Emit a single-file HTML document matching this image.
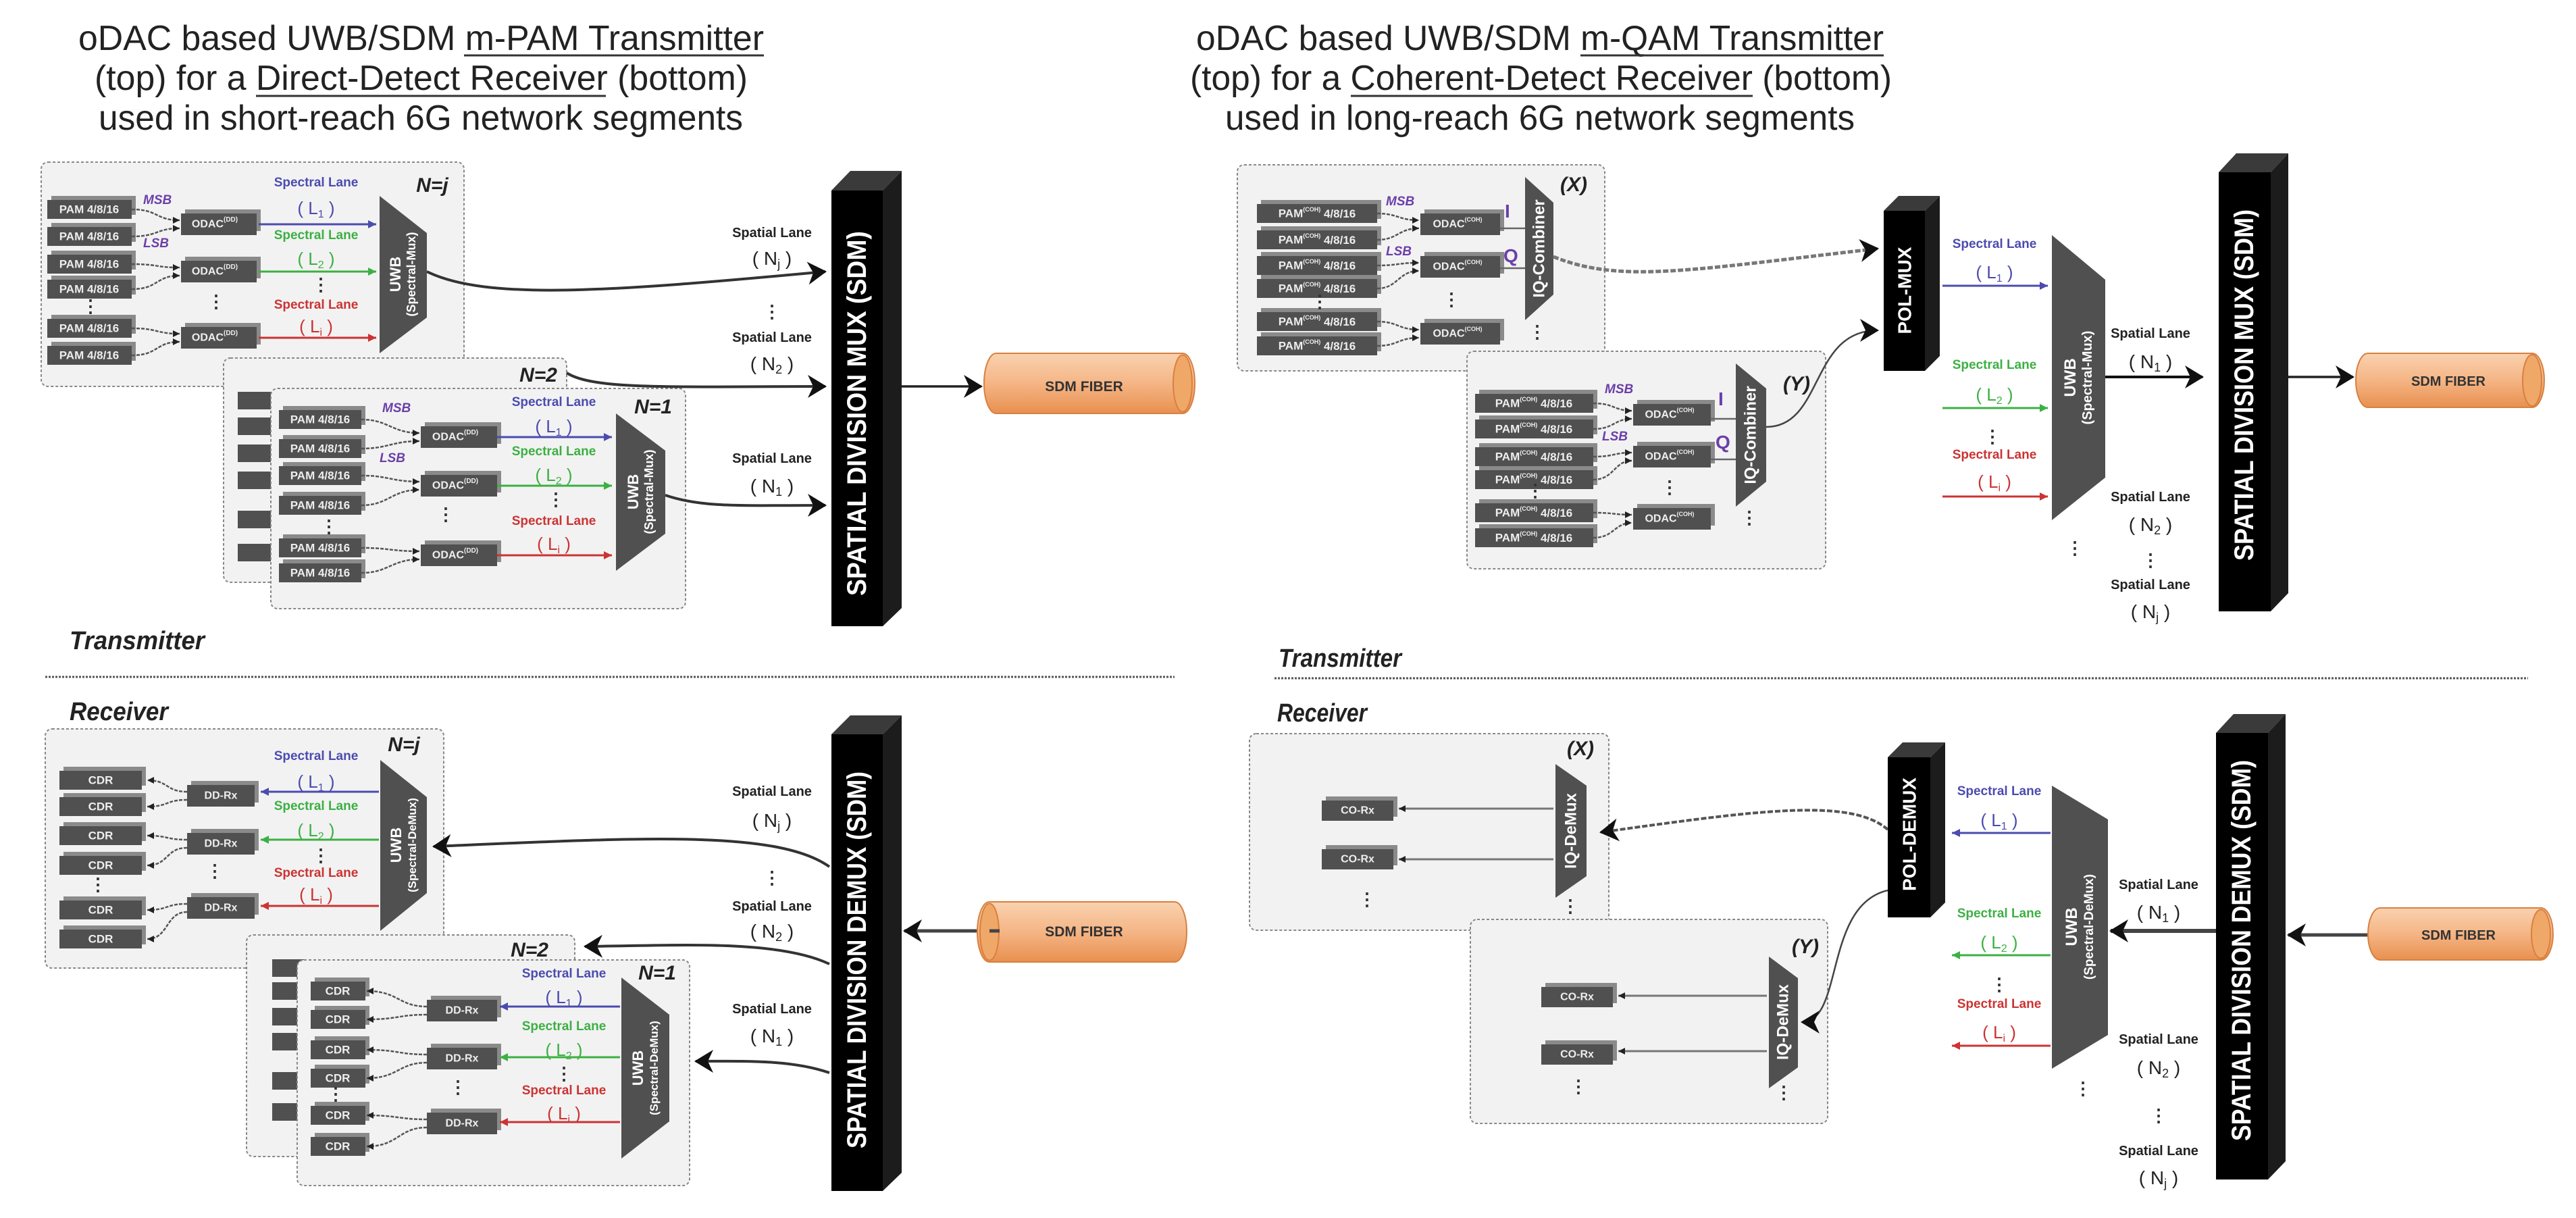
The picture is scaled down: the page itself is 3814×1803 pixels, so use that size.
<!DOCTYPE html>
<html><head><meta charset="utf-8">
<style>
html,body{margin:0;padding:0;background:#fff;}
svg{display:block;}
text{font-family:"Liberation Sans",sans-serif;}
.ti{font-size:52px;fill:#222;}
.pt{font-size:17px;font-weight:bold;fill:#eee;text-anchor:middle;dominant-baseline:central;}
.bt{font-size:16px;font-weight:bold;fill:#eee;text-anchor:middle;dominant-baseline:central;}
.sl{font-size:19px;font-weight:bold;text-anchor:middle;}
.ln{font-size:26px;text-anchor:middle;}
.sp{font-size:20px;font-weight:bold;fill:#222;text-anchor:middle;}
.spn{font-size:28px;fill:#222;text-anchor:middle;}
.nl{font-size:30px;font-weight:bold;font-style:italic;fill:#222;text-anchor:middle;}
.ms{font-size:19px;font-weight:bold;font-style:italic;fill:#6b3fa8;}
.iq{font-size:28px;font-weight:bold;fill:#6b3fa8;}
.dt{font-size:26px;font-weight:bold;fill:#333;text-anchor:middle;}
.wt{fill:#fff;font-weight:bold;text-anchor:middle;dominant-baseline:central;}
.sec{font-size:38px;font-weight:bold;font-style:italic;fill:#222;}
.pn{fill:#f2f2f2;stroke:#888;stroke-width:2;stroke-dasharray:4,3;}
.cn{fill:none;stroke:#555;stroke-width:2.5;stroke-dasharray:5,2;}
.bl{stroke:#4b4bb0;stroke-width:3;fill:none;}
.gr{stroke:#3cb043;stroke-width:3;fill:none;}
.rd{stroke:#cc3333;stroke-width:3;fill:none;}
.sc{fill:none;stroke:#333;stroke-width:4;}
</style></head><body>
<svg width="3814" height="1803" viewBox="0 0 3814 1803" xmlns="http://www.w3.org/2000/svg">
<defs>
<marker id="ab" markerUnits="userSpaceOnUse" markerWidth="30" markerHeight="34" refX="26" refY="17" orient="auto"><path d="M0,0 L28,17 L0,34 L8,17 Z" fill="#111"/></marker>
<marker id="as" markerUnits="userSpaceOnUse" markerWidth="12" markerHeight="12" refX="10" refY="6" orient="auto"><path d="M0,1 L10,6 L0,11 Z" fill="#222"/></marker>
<marker id="abl" markerUnits="userSpaceOnUse" markerWidth="14" markerHeight="14" refX="12" refY="7" orient="auto"><path d="M0,1 L12,7 L0,13 Z" fill="#4b4bb0"/></marker>
<marker id="agr" markerUnits="userSpaceOnUse" markerWidth="14" markerHeight="14" refX="12" refY="7" orient="auto"><path d="M0,1 L12,7 L0,13 Z" fill="#3cb043"/></marker>
<marker id="ard" markerUnits="userSpaceOnUse" markerWidth="14" markerHeight="14" refX="12" refY="7" orient="auto"><path d="M0,1 L12,7 L0,13 Z" fill="#cc3333"/></marker>
<linearGradient id="fg" x1="0" y1="0" x2="0" y2="1"><stop offset="0" stop-color="#f9d2b0"/><stop offset="0.5" stop-color="#f5b585"/><stop offset="1" stop-color="#e89050"/></linearGradient>
</defs>

<!-- TITLES -->
<text class="ti" x="116" y="74" textLength="1015" lengthAdjust="spacingAndGlyphs">oDAC based UWB/SDM m-PAM Transmitter</text>
<text class="ti" x="140" y="133" textLength="967" lengthAdjust="spacingAndGlyphs">(top) for a Direct-Detect Receiver (bottom)</text>
<text class="ti" x="146" y="192" textLength="954" lengthAdjust="spacingAndGlyphs">used in short-reach 6G network segments</text>
<line x1="687" y1="82" x2="1131" y2="82" stroke="#333" stroke-width="3"/>
<line x1="379" y1="142" x2="897" y2="142" stroke="#333" stroke-width="3"/>
<text class="ti" x="1771" y="74" textLength="1018" lengthAdjust="spacingAndGlyphs">oDAC based UWB/SDM m-QAM Transmitter</text>
<text class="ti" x="1762" y="133" textLength="1039" lengthAdjust="spacingAndGlyphs">(top) for a Coherent-Detect Receiver (bottom)</text>
<text class="ti" x="1814" y="192" textLength="932" lengthAdjust="spacingAndGlyphs">used in long-reach 6G network segments</text>
<line x1="2340" y1="82" x2="2789" y2="82" stroke="#333" stroke-width="3"/>
<line x1="2000" y1="142" x2="2595" y2="142" stroke="#333" stroke-width="3"/>

<!-- ============ LEFT TX N=j ============ -->
<rect class="pn" x="61" y="240" width="626" height="332" rx="10"/>
<g>
<rect x="76" y="290" width="125" height="28" fill="#8a8a8a"/><rect x="70" y="296" width="125" height="28" fill="#505050"/><text class="pt" x="132" y="310">PAM 4/8/16</text>
<rect x="76" y="330" width="125" height="28" fill="#8a8a8a"/><rect x="70" y="336" width="125" height="28" fill="#505050"/><text class="pt" x="132" y="350">PAM 4/8/16</text>
<rect x="76" y="371" width="125" height="28" fill="#8a8a8a"/><rect x="70" y="377" width="125" height="28" fill="#505050"/><text class="pt" x="132" y="391">PAM 4/8/16</text>
<rect x="76" y="408" width="125" height="28" fill="#8a8a8a"/><rect x="70" y="414" width="125" height="28" fill="#505050"/><text class="pt" x="132" y="428">PAM 4/8/16</text>
<rect x="76" y="466" width="125" height="28" fill="#8a8a8a"/><rect x="70" y="472" width="125" height="28" fill="#505050"/><text class="pt" x="132" y="486">PAM 4/8/16</text>
<rect x="76" y="506" width="125" height="28" fill="#8a8a8a"/><rect x="70" y="512" width="125" height="28" fill="#505050"/><text class="pt" x="132" y="526">PAM 4/8/16</text>
<rect x="274" y="310" width="112" height="32" fill="#8a8a8a"/><rect x="268" y="316" width="112" height="32" fill="#505050"/><text class="bt" x="318" y="332">ODAC<tspan font-size="10" dy="-7">(DD)</tspan></text>
<rect x="274" y="380" width="112" height="32" fill="#8a8a8a"/><rect x="268" y="386" width="112" height="32" fill="#505050"/><text class="bt" x="318" y="402">ODAC<tspan font-size="10" dy="-7">(DD)</tspan></text>
<rect x="274" y="478" width="112" height="32" fill="#8a8a8a"/><rect x="268" y="484" width="112" height="32" fill="#505050"/><text class="bt" x="318" y="500">ODAC<tspan font-size="10" dy="-7">(DD)</tspan></text>
<path class="cn" marker-end="url(#as)" d="M195,310 C235,310 230,326 266,326"/>
<path class="cn" marker-end="url(#as)" d="M195,350 C235,350 230,338 266,338"/>
<path class="cn" marker-end="url(#as)" d="M195,391 C235,391 230,396 266,396"/>
<path class="cn" marker-end="url(#as)" d="M195,428 C235,428 230,408 266,408"/>
<path class="cn" marker-end="url(#as)" d="M195,486 C235,486 230,494 266,494"/>
<path class="cn" marker-end="url(#as)" d="M195,526 C235,526 230,506 266,506"/>
<text class="ms" x="212" y="302">MSB</text><text class="ms" x="212" y="366">LSB</text>
<line class="bl" x1="383" y1="332" x2="557" y2="332" marker-end="url(#abl)"/>
<line class="gr" x1="383" y1="402" x2="557" y2="402" marker-end="url(#agr)"/>
<line class="rd" x1="383" y1="500" x2="557" y2="500" marker-end="url(#ard)"/>
<text class="sl" x="468" y="276" fill="#4b4bb0">Spectral Lane</text><text class="ln" x="468" y="317" fill="#4b4bb0">( L<tspan font-size="16" dy="5">1</tspan><tspan dy="-5"> )</tspan></text>
<text class="sl" x="468" y="354" fill="#3cb043">Spectral Lane</text><text class="ln" x="468" y="392" fill="#3cb043">( L<tspan font-size="16" dy="5">2</tspan><tspan dy="-5"> )</tspan></text>
<text class="sl" x="468" y="457" fill="#cc3333">Spectral Lane</text><text class="ln" x="468" y="492" fill="#cc3333">( L<tspan font-size="16" dy="5">i</tspan><tspan dy="-5"> )</tspan></text>
<text class="dt" x="475" y="430">⋮</text><text class="dt" x="320" y="455">⋮</text><text class="dt" x="134" y="462">⋮</text>
<polygon points="562,290 632,345 632,470 562,523" fill="#505050"/>
<text class="wt" transform="translate(597,406) rotate(-90)"><tspan x="0" dy="-12" font-size="22">UWB</tspan><tspan x="0" dy="24" font-size="18">(Spectral-Mux)</tspan></text>
<text class="nl" x="640" y="284">N=j</text>
</g>

<!-- N=2 panel -->
<rect class="pn" x="331" y="530" width="508" height="332" rx="10"/>
<text class="nl" x="797" y="565">N=2</text>
<g fill="#505050">
<rect x="352" y="580" width="60" height="26"/><rect x="352" y="618" width="60" height="26"/><rect x="352" y="658" width="60" height="26"/><rect x="352" y="698" width="60" height="26"/><rect x="352" y="756" width="60" height="26"/><rect x="352" y="805" width="60" height="26"/>
</g>
<!-- N=1 panel -->
<rect class="pn" x="401" y="575" width="614" height="326" rx="10"/>
<g>
<rect x="419" y="601" width="122" height="28" fill="#8a8a8a"/><rect x="413" y="607" width="122" height="28" fill="#505050"/><text class="pt" x="474" y="621">PAM 4/8/16</text>
<rect x="419" y="644" width="122" height="28" fill="#8a8a8a"/><rect x="413" y="650" width="122" height="28" fill="#505050"/><text class="pt" x="474" y="664">PAM 4/8/16</text>
<rect x="419" y="684" width="122" height="28" fill="#8a8a8a"/><rect x="413" y="690" width="122" height="28" fill="#505050"/><text class="pt" x="474" y="704">PAM 4/8/16</text>
<rect x="419" y="728" width="122" height="28" fill="#8a8a8a"/><rect x="413" y="734" width="122" height="28" fill="#505050"/><text class="pt" x="474" y="748">PAM 4/8/16</text>
<rect x="419" y="791" width="122" height="28" fill="#8a8a8a"/><rect x="413" y="797" width="122" height="28" fill="#505050"/><text class="pt" x="474" y="811">PAM 4/8/16</text>
<rect x="419" y="828" width="122" height="28" fill="#8a8a8a"/><rect x="413" y="834" width="122" height="28" fill="#505050"/><text class="pt" x="474" y="848">PAM 4/8/16</text>
<rect x="629" y="625" width="113" height="32" fill="#8a8a8a"/><rect x="623" y="631" width="113" height="32" fill="#505050"/><text class="bt" x="674" y="647">ODAC<tspan font-size="10" dy="-7">(DD)</tspan></text>
<rect x="629" y="697" width="113" height="32" fill="#8a8a8a"/><rect x="623" y="703" width="113" height="32" fill="#505050"/><text class="bt" x="674" y="719">ODAC<tspan font-size="10" dy="-7">(DD)</tspan></text>
<rect x="629" y="800" width="113" height="32" fill="#8a8a8a"/><rect x="623" y="806" width="113" height="32" fill="#505050"/><text class="bt" x="674" y="822">ODAC<tspan font-size="10" dy="-7">(DD)</tspan></text>
<path class="cn" marker-end="url(#as)" d="M535,621 C575,621 580,641 621,641"/>
<path class="cn" marker-end="url(#as)" d="M535,664 C575,664 580,653 621,653"/>
<path class="cn" marker-end="url(#as)" d="M535,704 C575,704 580,713 621,713"/>
<path class="cn" marker-end="url(#as)" d="M535,748 C575,748 580,725 621,725"/>
<path class="cn" marker-end="url(#as)" d="M535,811 C575,811 580,816 621,816"/>
<path class="cn" marker-end="url(#as)" d="M535,848 C575,848 580,828 621,828"/>
<text class="ms" x="566" y="610">MSB</text><text class="ms" x="562" y="684">LSB</text>
<line class="bl" x1="736" y1="647" x2="906" y2="647" marker-end="url(#abl)"/>
<line class="gr" x1="736" y1="719" x2="906" y2="719" marker-end="url(#agr)"/>
<line class="rd" x1="736" y1="822" x2="906" y2="822" marker-end="url(#ard)"/>
<text class="sl" x="820" y="601" fill="#4b4bb0">Spectral Lane</text><text class="ln" x="820" y="640" fill="#4b4bb0">( L<tspan font-size="16" dy="5">1</tspan><tspan dy="-5"> )</tspan></text>
<text class="sl" x="820" y="674" fill="#3cb043">Spectral Lane</text><text class="ln" x="820" y="712" fill="#3cb043">( L<tspan font-size="16" dy="5">2</tspan><tspan dy="-5"> )</tspan></text>
<text class="sl" x="820" y="777" fill="#cc3333">Spectral Lane</text><text class="ln" x="820" y="814" fill="#cc3333">( L<tspan font-size="16" dy="5">i</tspan><tspan dy="-5"> )</tspan></text>
<text class="dt" x="823" y="748">⋮</text><text class="dt" x="660" y="770">⋮</text><text class="dt" x="487" y="788">⋮</text>
<polygon points="912,612 985,667 985,790 912,845" fill="#505050"/>
<text class="wt" transform="translate(949,728) rotate(-90)"><tspan x="0" dy="-12" font-size="22">UWB</tspan><tspan x="0" dy="24" font-size="18">(Spectral-Mux)</tspan></text>
<text class="nl" x="967" y="612">N=1</text>
</g>

<!-- left TX spatial lanes -->
<path class="sc" d="M632,402 C720,445 900,432 1222,402" marker-end="url(#ab)"/>
<path class="sc" d="M839,552 C880,578 1000,572 1222,572" marker-end="url(#ab)"/>
<path class="sc" d="M985,733 C1040,752 1100,748 1222,748" marker-end="url(#ab)"/>
<text class="sp" x="1143" y="351">Spatial Lane</text><text class="spn" x="1143" y="392">( N<tspan font-size="18" dy="5">j</tspan><tspan dy="-5"> )</tspan></text>
<text class="dt" x="1143" y="470">⋮</text>
<text class="sp" x="1143" y="506">Spatial Lane</text><text class="spn" x="1143" y="548">( N<tspan font-size="18" dy="5">2</tspan><tspan dy="-5"> )</tspan></text>
<text class="sp" x="1143" y="685">Spatial Lane</text><text class="spn" x="1143" y="729">( N<tspan font-size="18" dy="5">1</tspan><tspan dy="-5"> )</tspan></text>
<!-- TX SDM bar left -->
<polygon points="1231,282 1259,253 1335,253 1307,282" fill="#3a3a3a"/>
<polygon points="1307,282 1335,253 1335,900 1307,927" fill="#1c1c1c"/>
<rect x="1231" y="282" width="76" height="645" fill="#000"/>
<text class="wt" font-size="40" font-weight="normal" transform="translate(1269,612) rotate(-90)" textLength="540" lengthAdjust="spacingAndGlyphs">SPATIAL DIVISION  MUX (SDM)</text>
<line x1="1335" y1="572" x2="1453" y2="572" stroke="#222" stroke-width="3.5" marker-end="url(#ab)"/>
<!-- fiber left TX -->
<path d="M1475,523 L1751,523 A18,44.5 0 0 1 1751,612 L1475,612 A18,44.5 0 0 1 1475,523 Z" fill="url(#fg)" stroke="#d88040" stroke-width="2"/>
<ellipse cx="1751" cy="567.5" rx="14" ry="42" fill="#f0a868" stroke="#d88040" stroke-width="2"/>
<text x="1605" y="579" font-size="21" font-weight="bold" fill="#333" text-anchor="middle">SDM FIBER</text>

<!-- section labels -->
<text class="sec" x="103" y="961" textLength="200" lengthAdjust="spacingAndGlyphs">Transmitter</text>
<line x1="67" y1="1002" x2="1739" y2="1002" stroke="#555" stroke-width="3" stroke-dasharray="3,2"/>
<text class="sec" x="103" y="1066" textLength="146" lengthAdjust="spacingAndGlyphs">Receiver</text>
<text class="sec" x="1893" y="987" textLength="182" lengthAdjust="spacingAndGlyphs">Transmitter</text>
<line x1="1887" y1="1004" x2="3743" y2="1004" stroke="#555" stroke-width="3" stroke-dasharray="3,2"/>
<text class="sec" x="1891" y="1068" textLength="133" lengthAdjust="spacingAndGlyphs">Receiver</text>

<!-- ============ LEFT RX N=j ============ -->
<rect class="pn" x="67" y="1079" width="590" height="354" rx="10"/>
<g>
<rect x="94" y="1135" width="122" height="28" fill="#8a8a8a"/><rect x="88" y="1141" width="122" height="28" fill="#505050"/><text class="pt" x="149" y="1155">CDR</text>
<rect x="94" y="1174" width="122" height="28" fill="#8a8a8a"/><rect x="88" y="1180" width="122" height="28" fill="#505050"/><text class="pt" x="149" y="1194">CDR</text>
<rect x="94" y="1217" width="122" height="28" fill="#8a8a8a"/><rect x="88" y="1223" width="122" height="28" fill="#505050"/><text class="pt" x="149" y="1237">CDR</text>
<rect x="94" y="1261" width="122" height="28" fill="#8a8a8a"/><rect x="88" y="1267" width="122" height="28" fill="#505050"/><text class="pt" x="149" y="1281">CDR</text>
<rect x="94" y="1327" width="122" height="28" fill="#8a8a8a"/><rect x="88" y="1333" width="122" height="28" fill="#505050"/><text class="pt" x="149" y="1347">CDR</text>
<rect x="94" y="1370" width="122" height="28" fill="#8a8a8a"/><rect x="88" y="1376" width="122" height="28" fill="#505050"/><text class="pt" x="149" y="1390">CDR</text>
<rect x="283" y="1156" width="100" height="32" fill="#8a8a8a"/><rect x="277" y="1162" width="100" height="32" fill="#505050"/><text class="bt" x="327" y="1178">DD-Rx</text>
<rect x="283" y="1227" width="100" height="32" fill="#8a8a8a"/><rect x="277" y="1233" width="100" height="32" fill="#505050"/><text class="bt" x="327" y="1249">DD-Rx</text>
<rect x="283" y="1322" width="100" height="32" fill="#8a8a8a"/><rect x="277" y="1328" width="100" height="32" fill="#505050"/><text class="bt" x="327" y="1344">DD-Rx</text>
<path class="cn" marker-end="url(#as)" d="M277,1172 C245,1172 250,1155 218,1155"/>
<path class="cn" marker-end="url(#as)" d="M277,1184 C245,1184 250,1194 218,1194"/>
<path class="cn" marker-end="url(#as)" d="M277,1243 C245,1243 250,1237 218,1237"/>
<path class="cn" marker-end="url(#as)" d="M277,1255 C245,1255 250,1281 218,1281"/>
<path class="cn" marker-end="url(#as)" d="M277,1338 C245,1338 250,1347 218,1347"/>
<path class="cn" marker-end="url(#as)" d="M277,1350 C245,1350 250,1390 218,1390"/>
<line class="bl" x1="561" y1="1172" x2="386" y2="1172" marker-end="url(#abl)"/>
<line class="gr" x1="561" y1="1243" x2="386" y2="1243" marker-end="url(#agr)"/>
<line class="rd" x1="561" y1="1341" x2="386" y2="1341" marker-end="url(#ard)"/>
<text class="sl" x="468" y="1125" fill="#4b4bb0">Spectral Lane</text><text class="ln" x="468" y="1166" fill="#4b4bb0">( L<tspan font-size="16" dy="5">1</tspan><tspan dy="-5"> )</tspan></text>
<text class="sl" x="468" y="1199" fill="#3cb043">Spectral Lane</text><text class="ln" x="468" y="1238" fill="#3cb043">( L<tspan font-size="16" dy="5">2</tspan><tspan dy="-5"> )</tspan></text>
<text class="sl" x="468" y="1298" fill="#cc3333">Spectral Lane</text><text class="ln" x="468" y="1333" fill="#cc3333">( L<tspan font-size="16" dy="5">i</tspan><tspan dy="-5"> )</tspan></text>
<text class="dt" x="475" y="1275">⋮</text><text class="dt" x="318" y="1298">⋮</text><text class="dt" x="145" y="1318">⋮</text>
<polygon points="563,1125 632,1180 632,1322 563,1378" fill="#505050"/>
<text class="wt" transform="translate(598,1251) rotate(-90)"><tspan x="0" dy="-12" font-size="22">UWB</tspan><tspan x="0" dy="24" font-size="17">(Spectral-DeMux)</tspan></text>
<text class="nl" x="598" y="1112">N=j</text>
</g>
<!-- N=2 RX -->
<rect class="pn" x="365" y="1384" width="486" height="328" rx="10"/>
<text class="nl" x="784" y="1416">N=2</text>
<g fill="#505050">
<rect x="403" y="1420" width="50" height="26"/><rect x="403" y="1454" width="50" height="26"/><rect x="403" y="1492" width="50" height="26"/><rect x="403" y="1529" width="50" height="26"/><rect x="403" y="1587" width="50" height="26"/><rect x="403" y="1633" width="50" height="26"/>
</g>
<rect class="pn" x="440" y="1421" width="581" height="334" rx="10"/>
<g>
<rect x="466" y="1447" width="81" height="28" fill="#8a8a8a"/><rect x="460" y="1453" width="81" height="28" fill="#505050"/><text class="pt" x="500" y="1467">CDR</text>
<rect x="466" y="1489" width="81" height="28" fill="#8a8a8a"/><rect x="460" y="1495" width="81" height="28" fill="#505050"/><text class="pt" x="500" y="1509">CDR</text>
<rect x="466" y="1534" width="81" height="28" fill="#8a8a8a"/><rect x="460" y="1540" width="81" height="28" fill="#505050"/><text class="pt" x="500" y="1554">CDR</text>
<rect x="466" y="1576" width="81" height="28" fill="#8a8a8a"/><rect x="460" y="1582" width="81" height="28" fill="#505050"/><text class="pt" x="500" y="1596">CDR</text>
<rect x="466" y="1631" width="81" height="28" fill="#8a8a8a"/><rect x="460" y="1637" width="81" height="28" fill="#505050"/><text class="pt" x="500" y="1651">CDR</text>
<rect x="466" y="1677" width="81" height="28" fill="#8a8a8a"/><rect x="460" y="1683" width="81" height="28" fill="#505050"/><text class="pt" x="500" y="1697">CDR</text>
<rect x="638" y="1474" width="104" height="32" fill="#8a8a8a"/><rect x="632" y="1480" width="104" height="32" fill="#505050"/><text class="bt" x="684" y="1496">DD-Rx</text>
<rect x="638" y="1545" width="104" height="32" fill="#8a8a8a"/><rect x="632" y="1551" width="104" height="32" fill="#505050"/><text class="bt" x="684" y="1567">DD-Rx</text>
<rect x="638" y="1641" width="104" height="32" fill="#8a8a8a"/><rect x="632" y="1647" width="104" height="32" fill="#505050"/><text class="bt" x="684" y="1663">DD-Rx</text>
<path class="cn" marker-end="url(#as)" d="M632,1490 C590,1490 590,1467 543,1467"/>
<path class="cn" marker-end="url(#as)" d="M632,1502 C590,1502 590,1509 543,1509"/>
<path class="cn" marker-end="url(#as)" d="M632,1561 C590,1561 590,1554 543,1554"/>
<path class="cn" marker-end="url(#as)" d="M632,1573 C590,1573 590,1596 543,1596"/>
<path class="cn" marker-end="url(#as)" d="M632,1657 C590,1657 590,1651 543,1651"/>
<path class="cn" marker-end="url(#as)" d="M632,1669 C590,1669 590,1697 543,1697"/>
<line class="bl" x1="918" y1="1490" x2="740" y2="1490" marker-end="url(#abl)"/>
<line class="gr" x1="918" y1="1565" x2="740" y2="1565" marker-end="url(#agr)"/>
<line class="rd" x1="918" y1="1661" x2="740" y2="1661" marker-end="url(#ard)"/>
<text class="sl" x="835" y="1447" fill="#4b4bb0">Spectral Lane</text><text class="ln" x="835" y="1485" fill="#4b4bb0">( L<tspan font-size="16" dy="5">1</tspan><tspan dy="-5"> )</tspan></text>
<text class="sl" x="835" y="1525" fill="#3cb043">Spectral Lane</text><text class="ln" x="835" y="1563" fill="#3cb043">( L<tspan font-size="16" dy="5">2</tspan><tspan dy="-5"> )</tspan></text>
<text class="sl" x="835" y="1620" fill="#cc3333">Spectral Lane</text><text class="ln" x="835" y="1657" fill="#cc3333">( L<tspan font-size="16" dy="5">i</tspan><tspan dy="-5"> )</tspan></text>
<text class="dt" x="835" y="1598">⋮</text><text class="dt" x="678" y="1618">⋮</text><text class="dt" x="497" y="1628">⋮</text>
<polygon points="920,1447 991,1502 991,1660 920,1715" fill="#505050"/>
<text class="wt" transform="translate(956,1581) rotate(-90)"><tspan x="0" dy="-12" font-size="22">UWB</tspan><tspan x="0" dy="24" font-size="17">(Spectral-DeMux)</tspan></text>
<text class="nl" x="973" y="1450">N=1</text>
</g>
<!-- left RX spatial lanes -->
<path class="sc" d="M1228,1283 C1150,1228 950,1240 642,1253" marker-end="url(#ab)"/>
<path class="sc" d="M1228,1427 C1150,1390 1000,1400 866,1401" marker-end="url(#ab)"/>
<path class="sc" d="M1228,1588 C1170,1568 1100,1571 1030,1571" marker-end="url(#ab)"/>
<text class="sp" x="1143" y="1178">Spatial Lane</text><text class="spn" x="1143" y="1224">( N<tspan font-size="18" dy="5">j</tspan><tspan dy="-5"> )</tspan></text>
<text class="dt" x="1143" y="1308">⋮</text>
<text class="sp" x="1143" y="1348">Spatial Lane</text><text class="spn" x="1143" y="1388">( N<tspan font-size="18" dy="5">2</tspan><tspan dy="-5"> )</tspan></text>
<text class="sp" x="1143" y="1500">Spatial Lane</text><text class="spn" x="1143" y="1543">( N<tspan font-size="18" dy="5">1</tspan><tspan dy="-5"> )</tspan></text>
<polygon points="1231,1087 1259,1059 1335,1059 1307,1087" fill="#3a3a3a"/>
<polygon points="1307,1087 1335,1059 1335,1736 1307,1763" fill="#1c1c1c"/>
<rect x="1231" y="1087" width="76" height="676" fill="#000"/>
<text class="wt" font-size="40" font-weight="normal" transform="translate(1269,1421) rotate(-90)" textLength="558" lengthAdjust="spacingAndGlyphs">SPATIAL DIVISION  DEMUX (SDM)</text>
<line x1="1465" y1="1378" x2="1339" y2="1378" stroke="#444" stroke-width="5" marker-end="url(#ab)"/>
<path d="M1465,1335 L1739,1335 A18,44.5 0 0 1 1739,1424 L1465,1424 A18,44.5 0 0 1 1465,1335 Z" fill="url(#fg)" stroke="#d88040" stroke-width="2"/>
<ellipse cx="1465" cy="1379.5" rx="14" ry="42" fill="#f0a868" stroke="#d88040" stroke-width="2"/>
<line x1="1465" y1="1378" x2="1480" y2="1378" stroke="#444" stroke-width="5"/>
<text x="1605" y="1386" font-size="21" font-weight="bold" fill="#333" text-anchor="middle">SDM FIBER</text>

<!-- ============ RIGHT TX ============ -->
<rect class="pn" x="1832" y="244" width="544" height="305" rx="10"/>
<g>
<rect x="1867" y="296" width="178" height="28" fill="#8a8a8a"/><rect x="1861" y="302" width="178" height="28" fill="#505050"/><text class="pt" x="1950" y="316">PAM<tspan font-size="9" dy="-6">(COH)</tspan><tspan dy="6"> 4/8/16</tspan></text>
<rect x="1867" y="335" width="178" height="28" fill="#8a8a8a"/><rect x="1861" y="341" width="178" height="28" fill="#505050"/><text class="pt" x="1950" y="355">PAM<tspan font-size="9" dy="-6">(COH)</tspan><tspan dy="6"> 4/8/16</tspan></text>
<rect x="1867" y="373" width="178" height="28" fill="#8a8a8a"/><rect x="1861" y="379" width="178" height="28" fill="#505050"/><text class="pt" x="1950" y="393">PAM<tspan font-size="9" dy="-6">(COH)</tspan><tspan dy="6"> 4/8/16</tspan></text>
<rect x="1867" y="407" width="178" height="28" fill="#8a8a8a"/><rect x="1861" y="413" width="178" height="28" fill="#505050"/><text class="pt" x="1950" y="427">PAM<tspan font-size="9" dy="-6">(COH)</tspan><tspan dy="6"> 4/8/16</tspan></text>
<rect x="1867" y="456" width="178" height="28" fill="#8a8a8a"/><rect x="1861" y="462" width="178" height="28" fill="#505050"/><text class="pt" x="1950" y="476">PAM<tspan font-size="9" dy="-6">(COH)</tspan><tspan dy="6"> 4/8/16</tspan></text>
<rect x="1867" y="492" width="178" height="28" fill="#8a8a8a"/><rect x="1861" y="498" width="178" height="28" fill="#505050"/><text class="pt" x="1950" y="512">PAM<tspan font-size="9" dy="-6">(COH)</tspan><tspan dy="6"> 4/8/16</tspan></text>
<rect x="2109" y="310" width="118" height="32" fill="#8a8a8a"/><rect x="2103" y="316" width="118" height="32" fill="#505050"/><text class="bt" x="2158" y="332">ODAC<tspan font-size="9" dy="-7">(COH)</tspan></text>
<rect x="2109" y="373" width="118" height="32" fill="#8a8a8a"/><rect x="2103" y="379" width="118" height="32" fill="#505050"/><text class="bt" x="2158" y="395">ODAC<tspan font-size="9" dy="-7">(COH)</tspan></text>
<rect x="2109" y="472" width="118" height="32" fill="#8a8a8a"/><rect x="2103" y="478" width="118" height="32" fill="#505050"/><text class="bt" x="2158" y="494">ODAC<tspan font-size="9" dy="-7">(COH)</tspan></text>
<path class="cn" marker-end="url(#as)" d="M2039,316 C2070,316 2070,326 2101,326"/>
<path class="cn" marker-end="url(#as)" d="M2039,355 C2070,355 2070,338 2101,338"/>
<path class="cn" marker-end="url(#as)" d="M2039,393 C2070,393 2070,389 2101,389"/>
<path class="cn" marker-end="url(#as)" d="M2039,427 C2070,427 2070,401 2101,401"/>
<path class="cn" marker-end="url(#as)" d="M2039,476 C2070,476 2070,488 2101,488"/>
<path class="cn" marker-end="url(#as)" d="M2039,512 C2070,512 2070,500 2101,500"/>
<text class="ms" x="2052" y="304">MSB</text><text class="ms" x="2052" y="378">LSB</text>
<line x1="2221" y1="338" x2="2258" y2="338" stroke="#666" stroke-width="2.5"/>
<line x1="2221" y1="397" x2="2258" y2="397" stroke="#666" stroke-width="2.5"/>
<text class="iq" x="2228" y="322">I</text><text class="iq" x="2226" y="388">Q</text>
<polygon points="2258,262 2300,300 2300,436 2258,474" fill="#505050"/>
<text class="wt" font-size="24" transform="translate(2279,368) rotate(-90)">IQ-Combiner</text>
<text class="nl" x="2330" y="283" font-size="26">(X)</text>
<text class="dt" x="2149" y="452">⋮</text><text class="dt" x="2276" y="500">⋮</text><text class="dt" x="1954" y="455">⋮</text>
</g>
<rect class="pn" x="2172" y="520" width="531" height="322" rx="10"/>
<g>
<rect x="2190" y="577" width="175" height="28" fill="#8a8a8a"/><rect x="2184" y="583" width="175" height="28" fill="#505050"/><text class="pt" x="2271" y="597">PAM<tspan font-size="9" dy="-6">(COH)</tspan><tspan dy="6"> 4/8/16</tspan></text>
<rect x="2190" y="615" width="175" height="28" fill="#8a8a8a"/><rect x="2184" y="621" width="175" height="28" fill="#505050"/><text class="pt" x="2271" y="635">PAM<tspan font-size="9" dy="-6">(COH)</tspan><tspan dy="6"> 4/8/16</tspan></text>
<rect x="2190" y="656" width="175" height="28" fill="#8a8a8a"/><rect x="2184" y="662" width="175" height="28" fill="#505050"/><text class="pt" x="2271" y="676">PAM<tspan font-size="9" dy="-6">(COH)</tspan><tspan dy="6"> 4/8/16</tspan></text>
<rect x="2190" y="690" width="175" height="28" fill="#8a8a8a"/><rect x="2184" y="696" width="175" height="28" fill="#505050"/><text class="pt" x="2271" y="710">PAM<tspan font-size="9" dy="-6">(COH)</tspan><tspan dy="6"> 4/8/16</tspan></text>
<rect x="2190" y="739" width="175" height="28" fill="#8a8a8a"/><rect x="2184" y="745" width="175" height="28" fill="#505050"/><text class="pt" x="2271" y="759">PAM<tspan font-size="9" dy="-6">(COH)</tspan><tspan dy="6"> 4/8/16</tspan></text>
<rect x="2190" y="776" width="175" height="28" fill="#8a8a8a"/><rect x="2184" y="782" width="175" height="28" fill="#505050"/><text class="pt" x="2271" y="796">PAM<tspan font-size="9" dy="-6">(COH)</tspan><tspan dy="6"> 4/8/16</tspan></text>
<rect x="2424" y="592" width="115" height="32" fill="#8a8a8a"/><rect x="2418" y="598" width="115" height="32" fill="#505050"/><text class="bt" x="2472" y="614">ODAC<tspan font-size="9" dy="-7">(COH)</tspan></text>
<rect x="2424" y="654" width="115" height="32" fill="#8a8a8a"/><rect x="2418" y="660" width="115" height="32" fill="#505050"/><text class="bt" x="2472" y="676">ODAC<tspan font-size="9" dy="-7">(COH)</tspan></text>
<rect x="2424" y="746" width="115" height="32" fill="#8a8a8a"/><rect x="2418" y="752" width="115" height="32" fill="#505050"/><text class="bt" x="2472" y="768">ODAC<tspan font-size="9" dy="-7">(COH)</tspan></text>
<path class="cn" marker-end="url(#as)" d="M2359,597 C2390,597 2390,608 2416,608"/>
<path class="cn" marker-end="url(#as)" d="M2359,635 C2390,635 2390,620 2416,620"/>
<path class="cn" marker-end="url(#as)" d="M2359,676 C2390,676 2390,670 2416,670"/>
<path class="cn" marker-end="url(#as)" d="M2359,710 C2390,710 2390,682 2416,682"/>
<path class="cn" marker-end="url(#as)" d="M2359,759 C2390,759 2390,762 2416,762"/>
<path class="cn" marker-end="url(#as)" d="M2359,796 C2390,796 2390,774 2416,774"/>
<text class="ms" x="2376" y="582">MSB</text><text class="ms" x="2372" y="652">LSB</text>
<line x1="2533" y1="620" x2="2570" y2="620" stroke="#666" stroke-width="2.5"/>
<line x1="2533" y1="680" x2="2570" y2="680" stroke="#666" stroke-width="2.5"/>
<text class="iq" x="2544" y="600">I</text><text class="iq" x="2540" y="664">Q</text>
<polygon points="2570,538 2615,575 2615,713 2570,750" fill="#505050"/>
<text class="wt" font-size="24" transform="translate(2592,644) rotate(-90)">IQ-Combiner</text>
<text class="nl" x="2660" y="578" font-size="26">(Y)</text>
<text class="dt" x="2472" y="730">⋮</text><text class="dt" x="2590" y="775">⋮</text><text class="dt" x="2273" y="735">⋮</text>
</g>
<!-- curves to POL-MUX -->
<path d="M2300,380 C2400,420 2500,400 2780,368" fill="none" stroke="#777" stroke-width="5" stroke-dasharray="8,3" marker-end="url(#ab)"/>
<path d="M2615,632 C2700,632 2680,489 2780,489" fill="none" stroke="#444" stroke-width="2.5" marker-end="url(#ab)"/>
<!-- POL-MUX -->
<polygon points="2789,312 2811,290 2872,290 2850,312" fill="#3a3a3a"/>
<polygon points="2850,312 2872,290 2872,527 2850,549" fill="#1c1c1c"/>
<rect x="2789" y="312" width="61" height="237" fill="#000"/>
<text class="wt" font-size="28" font-weight="normal" transform="translate(2820,430) rotate(-90)">POL-MUX</text>
<line class="bl" x1="2876" y1="423" x2="3032" y2="423" marker-end="url(#abl)"/>
<line class="gr" x1="2876" y1="604" x2="3032" y2="604" marker-end="url(#agr)"/>
<line class="rd" x1="2876" y1="735" x2="3032" y2="735" marker-end="url(#ard)"/>
<text class="sl" x="2953" y="367" fill="#4b4bb0">Spectral Lane</text><text class="ln" x="2953" y="412" fill="#4b4bb0">( L<tspan font-size="16" dy="5">1</tspan><tspan dy="-5"> )</tspan></text>
<text class="sl" x="2953" y="546" fill="#3cb043">Spectral Lane</text><text class="ln" x="2953" y="593" fill="#3cb043">( L<tspan font-size="16" dy="5">2</tspan><tspan dy="-5"> )</tspan></text>
<text class="dt" x="2950" y="655">⋮</text>
<text class="sl" x="2953" y="679" fill="#cc3333">Spectral  Lane</text><text class="ln" x="2953" y="722" fill="#cc3333">( L<tspan font-size="16" dy="5">i</tspan><tspan dy="-5"> )</tspan></text>
<polygon points="3038,348 3117,414 3117,707 3038,770" fill="#505050"/>
<text class="wt" transform="translate(3078,559) rotate(-90)"><tspan x="0" dy="-13" font-size="24">UWB</tspan><tspan x="0" dy="26" font-size="20">(Spectral-Mux)</tspan></text>
<line x1="3117" y1="558" x2="3261" y2="558" stroke="#111" stroke-width="4" marker-end="url(#ab)"/>
<text class="sp" x="3184" y="500">Spatial Lane</text><text class="spn" x="3184" y="545">( N<tspan font-size="18" dy="5">1</tspan><tspan dy="-5"> )</tspan></text>
<text class="dt" x="3072" y="820">⋮</text>
<text class="sp" x="3184" y="742">Spatial Lane</text><text class="spn" x="3184" y="786">( N<tspan font-size="18" dy="5">2</tspan><tspan dy="-5"> )</tspan></text>
<text class="dt" x="3184" y="838">⋮</text>
<text class="sp" x="3184" y="872">Spatial Lane</text><text class="spn" x="3184" y="915">( N<tspan font-size="18" dy="5">j</tspan><tspan dy="-5"> )</tspan></text>
<polygon points="3285,255 3311,227 3388,227 3362,255" fill="#3a3a3a"/>
<polygon points="3362,255 3388,227 3388,878 3362,905" fill="#1c1c1c"/>
<rect x="3285" y="255" width="77" height="650" fill="#000"/>
<text class="wt" font-size="40" font-weight="normal" transform="translate(3323,570) rotate(-90)" textLength="520" lengthAdjust="spacingAndGlyphs">SPATIAL DIVISION  MUX (SDM)</text>
<line x1="3388" y1="558" x2="3484" y2="558" stroke="#222" stroke-width="3.5" marker-end="url(#ab)"/>
<path d="M3506,523 L3749,523 A18,40 0 0 1 3749,603 L3506,603 A18,40 0 0 1 3506,523 Z" fill="url(#fg)" stroke="#d88040" stroke-width="2"/>
<ellipse cx="3749" cy="563" rx="14" ry="38" fill="#f0a868" stroke="#d88040" stroke-width="2"/>
<text x="3625" y="571" font-size="20" font-weight="bold" fill="#333" text-anchor="middle">SDM FIBER</text>

<!-- ============ RIGHT RX ============ -->
<rect class="pn" x="1850" y="1086" width="532" height="291" rx="10"/>
<rect x="1963" y="1179" width="106" height="30" fill="#8a8a8a"/><rect x="1957" y="1185" width="106" height="30" fill="#505050"/><text class="bt" x="2010" y="1200">CO-Rx</text>
<rect x="1963" y="1251" width="106" height="30" fill="#8a8a8a"/><rect x="1957" y="1257" width="106" height="30" fill="#505050"/><text class="bt" x="2010" y="1272">CO-Rx</text>
<line x1="2300" y1="1197" x2="2071" y2="1197" stroke="#777" stroke-width="3" marker-end="url(#as)"/>
<line x1="2300" y1="1272" x2="2071" y2="1272" stroke="#777" stroke-width="3" marker-end="url(#as)"/>
<polygon points="2303,1131 2349,1163 2349,1297 2303,1329" fill="#505050"/>
<text class="wt" font-size="24" transform="translate(2326,1230) rotate(-90)">IQ-DeMux</text>
<text class="nl" x="2340" y="1118" font-size="26">(X)</text>
<text class="dt" x="2024" y="1340">⋮</text><text class="dt" x="2325" y="1350">⋮</text>
<rect class="pn" x="2177" y="1361" width="529" height="302" rx="10"/>
<rect x="2288" y="1455" width="106" height="30" fill="#8a8a8a"/><rect x="2282" y="1461" width="106" height="30" fill="#505050"/><text class="bt" x="2335" y="1476">CO-Rx</text>
<rect x="2288" y="1540" width="106" height="30" fill="#8a8a8a"/><rect x="2282" y="1546" width="106" height="30" fill="#505050"/><text class="bt" x="2335" y="1561">CO-Rx</text>
<line x1="2616" y1="1474" x2="2396" y2="1474" stroke="#777" stroke-width="3" marker-end="url(#as)"/>
<line x1="2616" y1="1556" x2="2396" y2="1556" stroke="#777" stroke-width="3" marker-end="url(#as)"/>
<polygon points="2619,1416 2662,1448 2662,1580 2619,1611" fill="#505050"/>
<text class="wt" font-size="24" transform="translate(2640,1513) rotate(-90)">IQ-DeMux</text>
<text class="nl" x="2673" y="1411" font-size="26">(Y)</text>
<text class="dt" x="2337" y="1617">⋮</text><text class="dt" x="2641" y="1626">⋮</text>
<path d="M2795,1228 C2740,1180 2600,1200 2370,1232" fill="none" stroke="#555" stroke-width="4" stroke-dasharray="8,3" marker-end="url(#ab)"/>
<path d="M2795,1318 C2700,1340 2730,1513 2668,1513" fill="none" stroke="#444" stroke-width="2.5" marker-end="url(#ab)"/>
<polygon points="2795,1121 2817,1099 2880,1099 2858,1121" fill="#3a3a3a"/>
<polygon points="2858,1121 2880,1099 2880,1336 2858,1358" fill="#1c1c1c"/>
<rect x="2795" y="1121" width="63" height="237" fill="#000"/>
<text class="wt" font-size="28" font-weight="normal" transform="translate(2827,1235) rotate(-90)">POL-DEMUX</text>
<line class="bl" x1="3036" y1="1233" x2="2890" y2="1233" marker-end="url(#abl)"/>
<line class="gr" x1="3036" y1="1414" x2="2890" y2="1414" marker-end="url(#agr)"/>
<line class="rd" x1="3036" y1="1548" x2="2890" y2="1548" marker-end="url(#ard)"/>
<text class="sl" x="2960" y="1177" fill="#4b4bb0">Spectral Lane</text><text class="ln" x="2960" y="1223" fill="#4b4bb0">( L<tspan font-size="16" dy="5">1</tspan><tspan dy="-5"> )</tspan></text>
<text class="sl" x="2960" y="1358" fill="#3cb043">Spectral Lane</text><text class="ln" x="2960" y="1404" fill="#3cb043">( L<tspan font-size="16" dy="5">2</tspan><tspan dy="-5"> )</tspan></text>
<text class="dt" x="2960" y="1466">⋮</text>
<text class="sl" x="2960" y="1492" fill="#cc3333">Spectral  Lane</text><text class="ln" x="2960" y="1537" fill="#cc3333">( L<tspan font-size="16" dy="5">i</tspan><tspan dy="-5"> )</tspan></text>
<polygon points="3038,1163 3121,1213 3121,1532 3038,1582" fill="#505050"/>
<text class="wt" transform="translate(3080,1372) rotate(-90)"><tspan x="0" dy="-13" font-size="24">UWB</tspan><tspan x="0" dy="26" font-size="19">(Spectral-DeMux)</tspan></text>
<line x1="3281" y1="1378" x2="3125" y2="1378" stroke="#444" stroke-width="6" marker-end="url(#ab)"/>
<text class="sp" x="3196" y="1316">Spatial Lane</text><text class="spn" x="3196" y="1360">( N<tspan font-size="18" dy="5">1</tspan><tspan dy="-5"> )</tspan></text>
<text class="dt" x="3084" y="1620">⋮</text>
<text class="sp" x="3196" y="1545">Spatial Lane</text><text class="spn" x="3196" y="1590">( N<tspan font-size="18" dy="5">2</tspan><tspan dy="-5"> )</tspan></text>
<text class="dt" x="3196" y="1660">⋮</text>
<text class="sp" x="3196" y="1710">Spatial Lane</text><text class="spn" x="3196" y="1753">( N<tspan font-size="18" dy="5">j</tspan><tspan dy="-5"> )</tspan></text>
<polygon points="3281,1085 3307,1057 3384,1057 3358,1085" fill="#3a3a3a"/>
<polygon points="3358,1085 3384,1057 3384,1719 3358,1746" fill="#1c1c1c"/>
<rect x="3281" y="1085" width="77" height="661" fill="#000"/>
<text class="wt" font-size="40" font-weight="normal" transform="translate(3319,1407) rotate(-90)" textLength="564" lengthAdjust="spacingAndGlyphs">SPATIAL DIVISION  DEMUX (SDM)</text>
<line x1="3522" y1="1384" x2="3388" y2="1384" stroke="#444" stroke-width="5" marker-end="url(#ab)"/>
<path d="M3524,1344 L3762,1344 A18,38.5 0 0 1 3762,1421 L3524,1421 A18,38.5 0 0 1 3524,1344 Z" fill="url(#fg)" stroke="#d88040" stroke-width="2"/>
<ellipse cx="3762" cy="1382.5" rx="14" ry="36" fill="#f0a868" stroke="#d88040" stroke-width="2"/>
<text x="3640" y="1391" font-size="20" font-weight="bold" fill="#333" text-anchor="middle">SDM FIBER</text>
</svg>
</body></html>
